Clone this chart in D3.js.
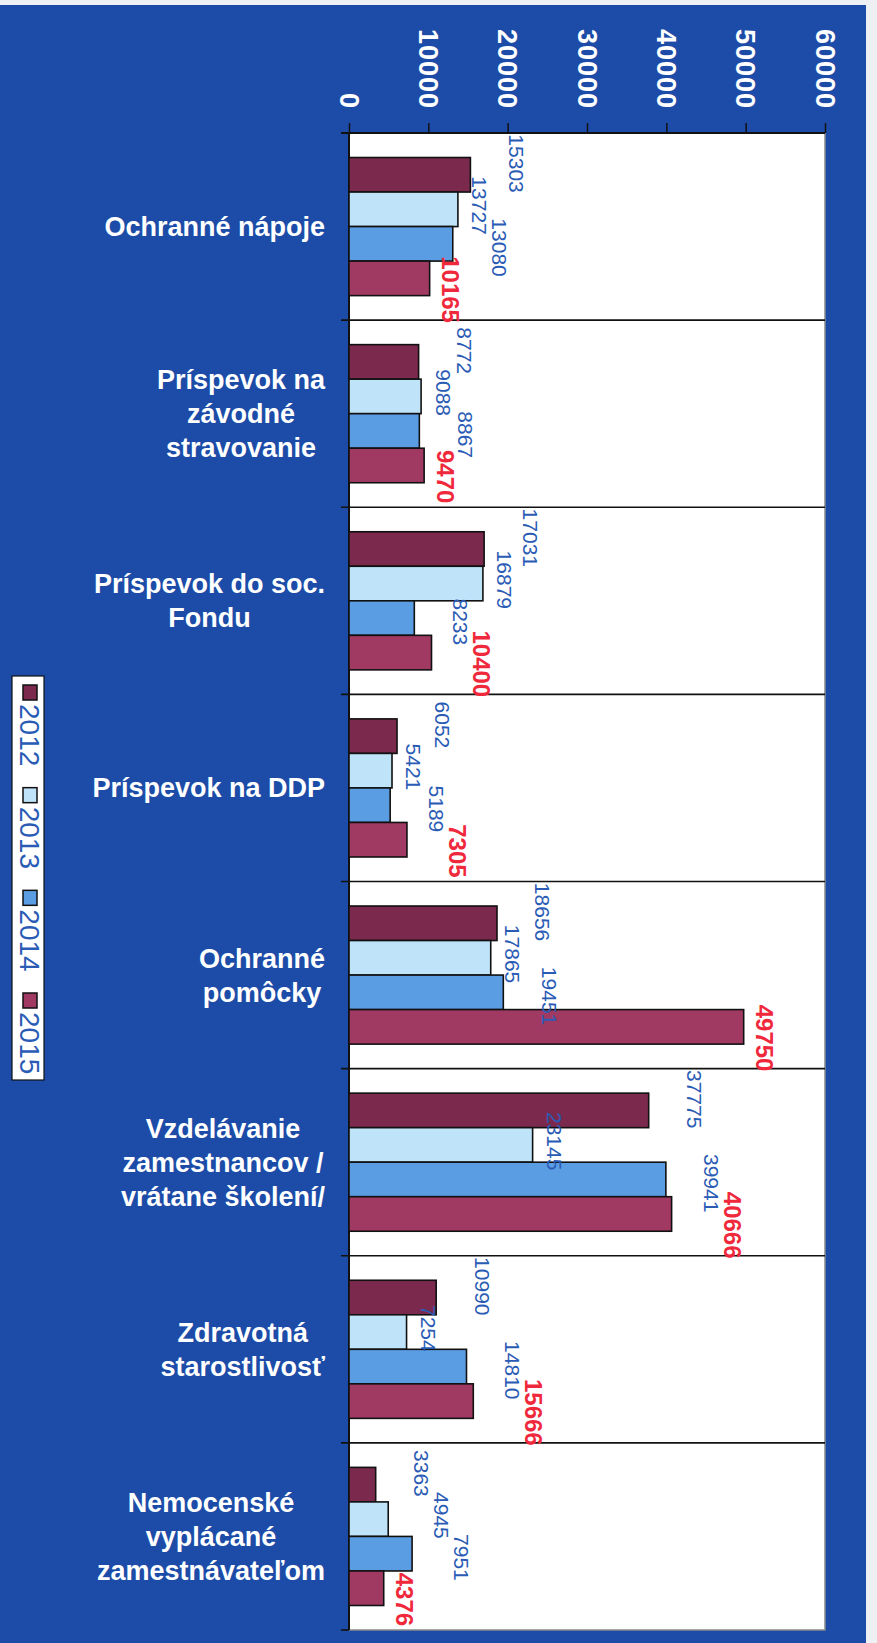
<!DOCTYPE html>
<html>
<head>
<meta charset="utf-8">
<script src="https://cdn.jsdelivr.net/npm/d3@7"></script>
<style>
  body { margin: 0; background: #eef0f4; }
  svg { display: block; }
  text { font-family: "Liberation Sans", Arial, sans-serif; }
</style>
</head>
<body>
<div id="chart"></div>
<script>
// data
var categories = [
    "Ochranné nápoje",
    "Príspevok na závodné stravovanie",
    "Príspevok do soc. Fondu",
    "Príspevok na DDP",
    "Ochranné pomôcky",
    "Vzdelávanie zamestnancov / vrátane školení/",
    "Zdravotná starostlivosť",
    "Nemocenské vyplácané zamestnávateľom"
];
var categoryLines = [
    ["Ochranné nápoje"],
    ["Príspevok na", "závodné", "stravovanie"],
    ["Príspevok do soc.", "Fondu"],
    ["Príspevok na DDP"],
    ["Ochranné", "pomôcky"],
    ["Vzdelávanie", "zamestnancov /", "vrátane školení/"],
    ["Zdravotná", "starostlivosť"],
    ["Nemocenské", "vyplácané", "zamestnávateľom"]
];
var years = ["2012", "2013", "2014", "2015"];
var values2012 = [15303, 8772, 17031, 6052, 18656, 37775, 10990, 3363];
var values2013 = [13727, 9088, 16879, 5421, 17865, 23145, 7254, 4945];
var values2014 = [13080, 8867, 8233, 5189, 19451, 39941, 14810, 7951];
var values2015 = [10165, 9470, 10400, 7305, 49750, 40666, 15666, 4376];
var tickValues = [0, 10000, 20000, 30000, 40000, 50000, 60000];

var series = [values2012, values2013, values2014, values2015];

var width = 877, height = 1643;
var plot = {left: 349, right: 825, top: 133, bottom: 1630};

var yearColors = d3.scaleOrdinal()
    .domain(years)
    .range(["#7b2a4e", "#bfe4fa", "#5b9de3", "#a03a63"]);

// labels in the scan are staggered: alternate near / far from the bar end
var labelGap = {"2012": 38, "2013": 14, "2014": 38, "2015": 12};
var labelSpread = 42;

var svg = d3.select("#chart").append("svg")
    .attr("width", width)
    .attr("height", height);

svg.append("rect")
    .attr("x", 0).attr("y", 5)
    .attr("width", 866).attr("height", height - 5)
    .attr("fill", "#1c4ca8");

var x = d3.scaleLinear()
    .domain([0, 60000])
    .range([plot.left, plot.right]);

var y = d3.scaleBand()
    .domain(categories)
    .range([plot.top, plot.bottom])
    .paddingInner(0)
    .paddingOuter(0);

var yInner = d3.scaleBand()
    .domain(years)
    .range([0, y.bandwidth()])
    .paddingInner(0)
    .paddingOuter(0.71);

// plot area
svg.append("rect")
    .attr("x", plot.left).attr("y", plot.top)
    .attr("width", plot.right - plot.left)
    .attr("height", plot.bottom - plot.top)
    .attr("fill", "#ffffff")
    .attr("stroke", "#8a8a8a")
    .attr("stroke-width", 1.5);

// separators between categories
var bounds = categories.map(c => y(c)).concat([plot.bottom]);
svg.append("g").selectAll("line")
    .data(bounds.slice(1, -1))
    .enter().append("line")
    .attr("x1", plot.left - 8).attr("x2", plot.right)
    .attr("y1", d => d).attr("y2", d => d)
    .attr("stroke", "#111")
    .attr("stroke-width", 1.6);
svg.append("line")
    .attr("x1", plot.left - 8).attr("x2", plot.left)
    .attr("y1", plot.bottom).attr("y2", plot.bottom)
    .attr("stroke", "#111").attr("stroke-width", 1.6);

// value axis on top
var xAxis = d3.axisTop(x).tickValues(tickValues).tickSize(10).tickFormat(d3.format("d"));
var gx = svg.append("g")
    .attr("transform", "translate(0," + plot.top + ")")
    .call(xAxis);
gx.select(".domain").attr("stroke", "#111").attr("stroke-width", 1.8)
    .attr("d", "M" + (plot.left - 8) + ",0H" + plot.right);
gx.selectAll(".tick line").attr("stroke", "#111").attr("stroke-width", 1.5);
gx.selectAll(".tick text")
    .attr("transform", "rotate(90)")
    .attr("x", -24)
    .attr("y", 0)
    .attr("dy", "0.36em")
    .attr("text-anchor", "end")
    .attr("fill", "#ffffff")
    .attr("font-size", "27px")
    .attr("font-weight", "bold")
    .attr("letter-spacing", "1px");

// category axis line
svg.append("line")
    .attr("x1", plot.left).attr("x2", plot.left)
    .attr("y1", plot.top).attr("y2", plot.bottom)
    .attr("stroke", "#111").attr("stroke-width", 2);

// category labels: block centred, right edge near the axis
var catLabels = svg.append("g");
categories.forEach(function (c, i) {
    var g = catLabels.append("text")
        .attr("fill", "#ffffff")
        .attr("font-size", "27px")
        .attr("font-weight", "bold")
        .attr("text-anchor", "middle");
    var lines = categoryLines[i];
    lines.forEach(function (line, j) {
        g.append("tspan")
            .attr("y", y(c) + y.bandwidth() / 2 + (j - (lines.length - 1) / 2) * 34)
            .attr("dy", "0.35em")
            .text(line);
    });
    var w = 0;
    g.selectAll("tspan").each(function () { w = Math.max(w, this.getComputedTextLength()); });
    g.selectAll("tspan").attr("x", 325 - w / 2);
});

// bars
var rows = [];
categories.forEach(function (c, i) {
    years.forEach(function (yr, k) {
        rows.push({cat: c, year: yr, k: k, value: series[k][i]});
    });
});

svg.append("g").selectAll("rect")
    .data(rows)
    .enter().append("rect")
    .attr("x", x(0))
    .attr("y", d => y(d.cat) + yInner(d.year))
    .attr("width", d => x(d.value) - x(0))
    .attr("height", yInner.bandwidth())
    .attr("fill", d => yearColors(d.year))
    .attr("stroke", "#111")
    .attr("stroke-width", 1.6);

// value labels, rotated like the rest of the scan
var labels = svg.append("g").selectAll("text")
    .data(rows)
    .enter().append("text")
    .attr("text-anchor", "middle")
    .attr("fill", d => d.year === "2015" ? "#f0283c" : "#2a5bb5")
    .attr("font-size", d => d.year === "2015" ? "24px" : "21px")
    .attr("font-weight", d => d.year === "2015" ? "bold" : "normal")
    .text(d => d.value);

// place them, pushing a label further out when it would sit on the previous one
var placed = {};
labels.each(function (d) {
    var len = this.getComputedTextLength();
    var thick = d.year === "2015" ? 18 : 16;
    var cy = y(d.cat) + y.bandwidth() / 2 + (d.k - 1.5) * labelSpread;
    var bx = x(d.value) + labelGap[d.year];
    var box = {x0: bx, x1: bx + thick, y0: cy - len / 2, y1: cy + len / 2};
    var prev = placed[d.cat] || [];
    prev.forEach(function (p) {
        if (box.y0 < p.y1 && box.y1 > p.y0 && box.x0 < p.x1 + 3 && box.x1 > p.x0 - 3) {
            box.x0 = p.x1 + 4;
            box.x1 = box.x0 + thick;
        }
    });
    prev.push(box);
    placed[d.cat] = prev;
    d3.select(this).attr("transform", "translate(" + box.x0 + "," + cy + ") rotate(90)")
        .attr("dy", "-0.02em");
});

// legend
var legendY = d3.scalePoint()
    .domain(years)
    .range([685, 993]);

svg.append("rect")
    .attr("x", 12).attr("y", 676)
    .attr("width", 32).attr("height", 404)
    .attr("fill", "#ffffff")
    .attr("stroke", "#111")
    .attr("stroke-width", 1.2);

var legend = svg.append("g").selectAll("g")
    .data(years)
    .enter().append("g")
    .attr("transform", d => "translate(30," + legendY(d) + ")");
legend.append("rect")
    .attr("x", -7).attr("y", 0)
    .attr("width", 14).attr("height", 15)
    .attr("fill", d => yearColors(d))
    .attr("stroke", "#111")
    .attr("stroke-width", 1.5);
legend.append("text")
    .attr("transform", "rotate(90)")
    .attr("x", 19)
    .attr("y", 0)
    .attr("dy", "0.36em")
    .attr("fill", "#2a5bb5")
    .attr("font-size", "28px")
    .text(d => d);
</script>
</body>
</html>
